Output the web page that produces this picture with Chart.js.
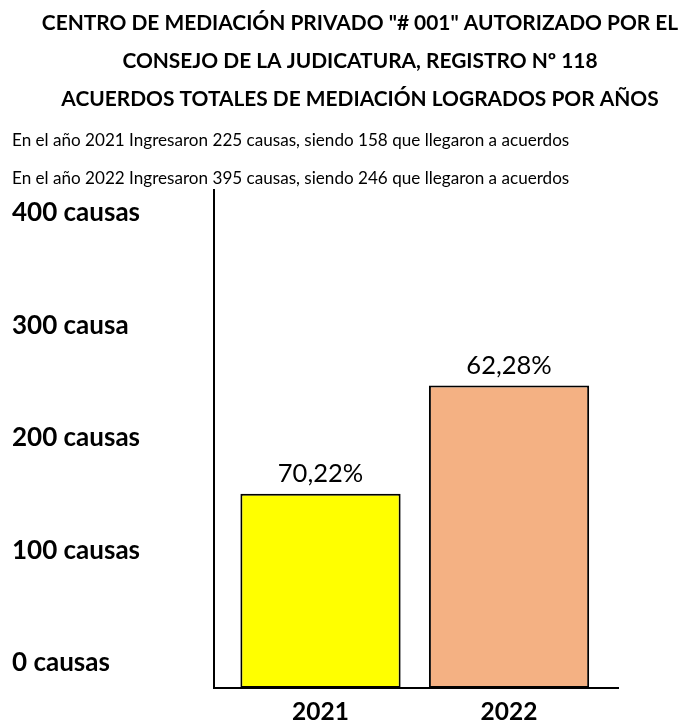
<!DOCTYPE html>
<html lang="es">
<head>
<meta charset="utf-8">
<script src="https://cdn.jsdelivr.net/npm/chart.js@4.4.1/dist/chart.umd.min.js"></script>
<style>
html,body{margin:0;padding:0;background:#fff;}
#wrap{position:relative;width:679px;height:720px;}
</style>
</head>
<body>
<div id="wrap"><canvas id="c"></canvas></div>
<script>
const titleLines = [
  'CENTRO DE MEDIACIÓN PRIVADO "# 001" AUTORIZADO POR EL',
  'CONSEJO DE LA JUDICATURA, REGISTRO Nº 118',
  'ACUERDOS TOTALES DE MEDIACIÓN LOGRADOS POR AÑOS'
];
const years = ['2021', '2022'];
const ingresadas = [225, 395];
const acuerdos = [158, 246];
const barColors = ['#FFFF00', '#F4B183'];
const yTickValues = [0, 100, 200, 300, 400];
const yTickLabels = ['0 causas', '100 causas', '200 causas', '300 causa', '400 causas'];

const percentLabels = acuerdos.map((a, i) => (a / ingresadas[i] * 100).toFixed(2).replace('.', ',') + '%');
const subtitleLines = years.map((y, i) => 'En el año ' + y + ' Ingresaron ' + ingresadas[i] + ' causas, siendo ' + acuerdos[i] + ' que llegaron a acuerdos');

const FONT = 'Lato';

const valueLabels = {
  id: 'valueLabels',
  afterDatasetsDraw(chart) {
    const ctx = chart.ctx;
    const meta = chart.getDatasetMeta(0);
    ctx.save();
    ctx.font = '25.5px ' + FONT;
    ctx.fillStyle = '#000';
    ctx.textAlign = 'center';
    ctx.textBaseline = 'middle';
    meta.data.forEach((bar, i) => ctx.fillText(percentLabels[i], bar.x, bar.y - 20));
    ctx.restore();
  }
};

new Chart(document.getElementById('c'), {
  type: 'bar',
  data: {
    datasets: [{
      data: years.map((_, i) => ({x: i, y: acuerdos[i]})),
      backgroundColor: barColors,
      borderColor: '#000',
      borderWidth: 2,
      borderSkipped: false,
      barPercentage: 0.85,
      categoryPercentage: 1
    }]
  },
  options: {
    responsive: true,
    maintainAspectRatio: false,
    animation: false,
    layout: {padding: {left: 12, right: -29, top: 0, bottom: 0}},
    plugins: {
      legend: {display: false},
      tooltip: {enabled: false},
      title: {
        display: true, text: titleLines, color: '#000',
        font: {family: FONT, size: 20.9, weight: 'bold', lineHeight: '38px'},
        padding: {top: 4, bottom: 0}
      },
      subtitle: {
        display: true, text: subtitleLines, align: 'start', color: '#000',
        font: {family: FONT, size: 17.1, weight: 'normal', lineHeight: '38px'},
        padding: {top: 3, bottom: -7}
      }
    },
    scales: {
      x: {
        type: 'linear', min: -0.565, max: 1.578, offset: false,
        grid: {display: false, offset: false},
        border: {display: true, color: '#000', width: 2},
        afterBuildTicks: s => { s.ticks = years.map((_, i) => ({value: i})); },
        ticks: {callback: v => years[v], color: '#000', font: {family: FONT, size: 24.5, weight: 'bold'}, padding: 1, maxRotation: 0, autoSkip: false},
        afterFit: s => { s.height = 32; }
      },
      y: {
        type: 'linear', position: 'left', weight: 0, min: 0, max: 405,
        grid: {display: false},
        border: {display: true, color: '#000', width: 2},
        ticks: {display: false},
        afterFit: s => { s.width = 0; }
      },
      yl: {
        type: 'linear', position: 'left', weight: 1, min: -22.2, max: 420.4,
        grid: {display: false},
        border: {display: false},
        afterBuildTicks: s => { s.ticks = yTickValues.map(v => ({value: v})); },
        ticks: {callback: v => yTickLabels[yTickValues.indexOf(v)], crossAlign: 'far', color: '#000', font: {family: FONT, size: 26, weight: 'bold'}, autoSkip: false},
        afterFit: s => { s.width = 202; }
      },
      yr: {
        type: 'linear', position: 'right', min: 0, max: 1,
        grid: {display: false}, border: {display: false}, ticks: {display: false},
        afterFit: s => { s.width = 90; }
      }
    }
  },
  plugins: [valueLabels]
});
</script>
</body>
</html>
